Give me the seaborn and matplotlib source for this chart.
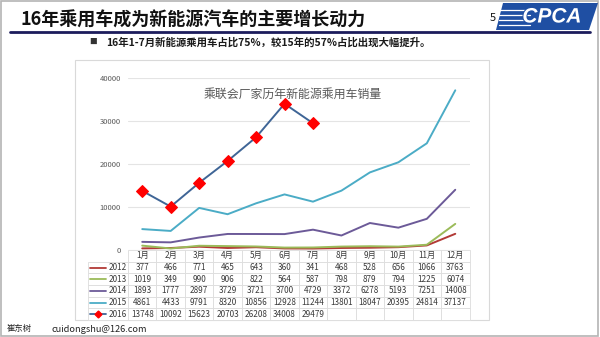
import matplotlib
matplotlib.use("Agg")
import matplotlib.pyplot as plt
import matplotlib.patheffects as pe
from matplotlib.patches import Polygon, Rectangle
from matplotlib.lines import Line2D
import pandas as pd
import seaborn as sns

# ---- data -------------------------------------------------------------
months = ["1月", "2月", "3月", "4月", "5月", "6月",
          "7月", "8月", "9月", "10月", "11月", "12月"]
years = ["2012", "2013", "2014", "2015", "2016"]
sales_2012 = [377, 466, 771, 465, 643, 360, 341, 468, 528, 656, 1066, 3763]
sales_2013 = [1019, 349, 990, 906, 822, 564, 587, 798, 879, 794, 1225, 6074]
sales_2014 = [1893, 1777, 2897, 3729, 3721, 3700, 4729, 3372, 6278, 5193, 7251, 14008]
sales_2015 = [4861, 4433, 9791, 8320, 10856, 12928, 11244, 13801, 18047, 20395, 24814, 37137]
sales_2016 = [13748, 10092, 15623, 20703, 26208, 34008, 29479]
y_ticks = [0, 10000, 20000, 30000, 40000]

page_title = "16年乘用车成为新能源汽车的主要增长动力"
bullet_text = "16年1-7月新能源乘用车占比75%，较15年的57%占比出现大幅提升。"
chart_title = "乘联会厂家历年新能源乘用车销量"
author = "崔东树"
email = "cuidongshu@126.com"
page_no = "5"
logo_text = "CPCA"

series = dict(zip(years, [sales_2012, sales_2013, sales_2014, sales_2015, sales_2016]))
colors = {"2012": "#b23a36", "2013": "#9bbb59", "2014": "#6c5a98",
          "2015": "#4bacc6", "2016": "#3f6596"}

rows = []
for yr, vals in series.items():
    for m, v in zip(months, vals):
        rows.append({"year": yr, "month": m, "sales": v})
df = pd.DataFrame(rows)

# ---- style ------------------------------------------------------------
sns.set_style("white")
plt.rcParams["font.family"] = ["Noto Sans CJK SC", "DejaVu Sans"]

W, H = 600, 337
fig = plt.figure(figsize=(6, 3.37), dpi=100)
fig.patch.set_facecolor("white")


def fx(px):
    return px / W


def fy(py):
    return 1 - py / H


# slide frame
fig.patches.append(Rectangle((0.002, 0.003), 0.995, 0.994, transform=fig.transFigure,
                             fill=False, edgecolor="#b4b4b4", lw=1.2, zorder=0))

# page header
fig.text(fx(20), fy(20), page_title, fontsize=13.0, fontweight="bold",
         color="#111111", va="center", ha="left")
fig.add_artist(Line2D([fx(10), fx(590)], [fy(32), fy(32)], color="#1c1c5c",
                      lw=2.0, transform=fig.transFigure))

# logo
logo = Polygon([(fx(496), fy(30)), (fx(503), fy(3)), (fx(598), fy(3)), (fx(589), fy(30))],
               closed=True, transform=fig.transFigure, facecolor="#1f4fa3",
               edgecolor="none", zorder=2)
fig.patches.append(logo)
for sy in (10, 15, 20, 25):
    fig.add_artist(Line2D([fx(499), fx(530)], [fy(sy), fy(sy)], color="white",
                          lw=0.9, transform=fig.transFigure, zorder=3))
fig.text(fx(552), fy(17), logo_text, fontsize=15, fontweight="bold", fontstyle="italic",
         family="Liberation Sans", color="white", ha="center", va="center", zorder=4,
         path_effects=[pe.withStroke(linewidth=1.4, foreground="#1f4fa3")])
fig.text(fx(493), fy(18), page_no, fontsize=8, color="#111111", ha="center", va="center")

# bullet line
fig.text(fx(93), fy(42), "■", fontsize=5.5, color="#333333", ha="center", va="center")
fig.text(fx(106), fy(42), bullet_text, fontsize=7.5, fontweight="bold",
         color="#1a1a1a", ha="left", va="center")

# chart frame
fig.patches.append(Rectangle((fx(75), fy(320)), fx(489) - fx(75), fy(60) - fy(320),
                             transform=fig.transFigure, facecolor="white",
                             edgecolor="#d9d9d9", lw=0.8, zorder=1))

# footer
fig.text(fx(7), fy(329), author, fontsize=6, color="#222222", ha="left", va="center")
fig.text(fx(52), fy(329), email, fontsize=6.6, color="#222222", ha="left", va="center")

# ---- plot area --------------------------------------------------------
ax_l, ax_r, ax_t, ax_b = 128, 469.5, 78, 250
ax = fig.add_axes([fx(ax_l), fy(ax_b), fx(ax_r) - fx(ax_l), fy(ax_t) - fy(ax_b)])
ax.set_facecolor("none")
ax.set_zorder(3)

for yr in years:
    sub = df[df["year"] == yr]
    if yr == "2016":
        sns.lineplot(data=sub, x="month", y="sales", ax=ax, sort=False, color=colors[yr],
                     lw=1.4, marker="D", markersize=6, markerfacecolor="#ff0000",
                     markeredgecolor="#ff0000", zorder=5)
    else:
        sns.lineplot(data=sub, x="month", y="sales", ax=ax, sort=False, color=colors[yr],
                     lw=1.4, zorder=4)

ax.set_xlim(-0.5, len(months) - 0.5)
ax.set_ylim(0, 40000)
ax.set_yticks(y_ticks)
ax.set_yticklabels([str(t) for t in y_ticks], fontsize=5.5, color="#595959")
ax.tick_params(axis="y", length=0, pad=5)
ax.tick_params(axis="x", length=0, labelbottom=False)
ax.set_xlabel("")
ax.set_ylabel("")
ax.grid(axis="y", color="#e4e4e4", lw=0.8)
for s in ax.spines.values():
    s.set_visible(False)
ax.text(0.483, 0.905, chart_title, transform=ax.transAxes, fontsize=8.6,
        color="#595959", ha="center", va="center")

# ---- data table -------------------------------------------------------
first_w = (ax_l - 88) / (ax_r - ax_l)
cell_text = [[""] + months]
for yr in years:
    vals = series[yr]
    cell_text.append([yr] + [str(v) for v in vals] + [""] * (len(months) - len(vals)))
tab_h = (320 - ax_b) / (ax_b - ax_t)
table = ax.table(cellText=cell_text, colWidths=[first_w] + [1 / 12] * 12,
                 bbox=[-first_w, -tab_h, 1 + first_w, tab_h], cellLoc="center")
table.auto_set_font_size(False)
table.set_fontsize(5.9)
for (r, c), cell in table.get_celld().items():
    cell.set_edgecolor("#dcdcdc")
    cell.set_linewidth(0.6)
    cell.get_text().set_color("#3a3a3a")
    cell.PAD = 0.02
    if r == 0 and c == 0:
        cell.visible_edges = ""
    if c == 0 and r > 0:
        cell.get_text().set_ha("right")
        cell._loc = "right"

# legend keys in the first table column
row_h = tab_h / len(cell_text)
for i, yr in enumerate(years):
    yc = -row_h * (i + 1.5)
    x0 = -first_w + 0.006
    x1 = -first_w + 0.052
    ax.add_line(Line2D([x0, x1], [yc, yc], color=colors[yr], lw=1.3,
                       transform=ax.transAxes, clip_on=False, zorder=6))
    if yr == "2016":
        ax.add_line(Line2D([(x0 + x1) / 2], [yc], marker="D", markersize=3.5,
                           color="#ff0000", lw=0, transform=ax.transAxes,
                           clip_on=False, zorder=7))

fig.savefig("out.png", dpi=100, facecolor="white")
